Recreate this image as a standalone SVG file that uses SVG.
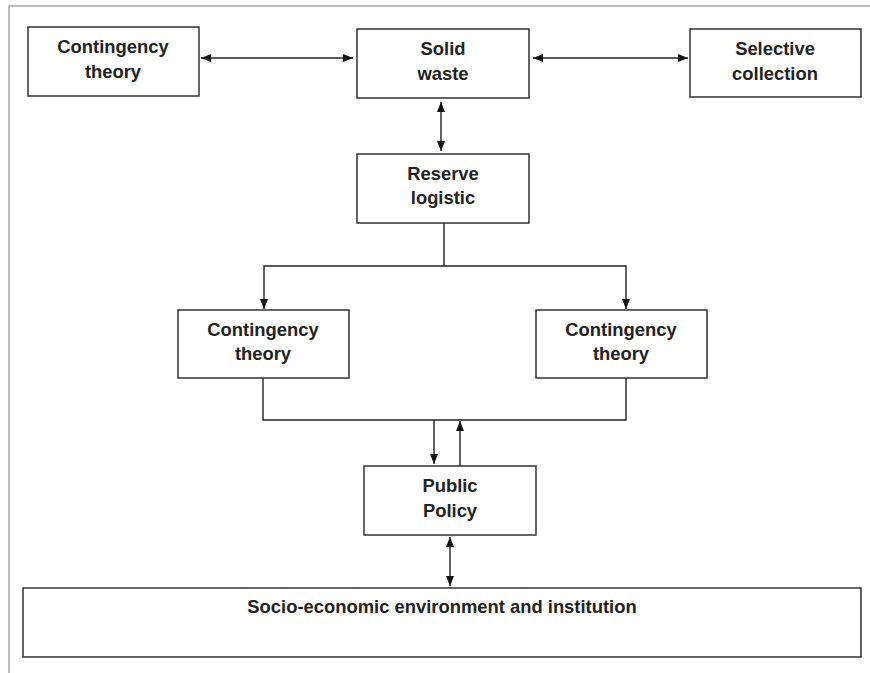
<svg xmlns="http://www.w3.org/2000/svg" width="870" height="673" viewBox="0 0 870 673">
<style>
.box{fill:#fff;stroke:#333;stroke-width:1.5}
.lbl{font-family:"Liberation Sans",Arial,sans-serif;font-weight:bold;font-size:18.4px;fill:#222;text-anchor:middle}
.ln{fill:none;stroke:#222;stroke-width:1.4}
.frame{fill:none;stroke:#a6a6a6;stroke-width:1.5}
</style>
<defs>
<marker id="ah" viewBox="0 0 10 8" refX="10" refY="4" markerWidth="10" markerHeight="8" markerUnits="userSpaceOnUse" orient="auto-start-reverse">
<path d="M0,0 L10,4 L0,8 z" fill="#111"/>
</marker>
</defs>
<rect width="870" height="673" fill="#fff"/>
<path class="frame" d="M9,673 V6 H870"/>
<g id="connectors">
<line class="ln" x1="201" y1="58" x2="353" y2="58" marker-start="url(#ah)" marker-end="url(#ah)"/>
<line class="ln" x1="533" y1="58" x2="688" y2="58" marker-start="url(#ah)" marker-end="url(#ah)"/>
<line class="ln" x1="441" y1="102" x2="441" y2="151" marker-start="url(#ah)" marker-end="url(#ah)"/>
<line class="ln" x1="444" y1="223" x2="444" y2="266"/>
<path class="ln" d="M264,309 V266 H626 V309" marker-start="url(#ah)" marker-end="url(#ah)"/>
<path class="ln" d="M263,378 V420 H626 V378"/>
<line class="ln" x1="434" y1="420" x2="434" y2="464" marker-end="url(#ah)"/>
<line class="ln" x1="460" y1="466" x2="460" y2="421" marker-end="url(#ah)"/>
<line class="ln" x1="450" y1="537" x2="450" y2="586" marker-start="url(#ah)" marker-end="url(#ah)"/>
</g>
<g id="n-contingency-top">
<rect class="box" x="28" y="27" width="171" height="69"/>
<text class="lbl" x="113" y="53">Contingency</text>
<text class="lbl" x="113" y="78">theory</text>
</g>
<g id="n-solid-waste">
<rect class="box" x="357" y="29" width="172" height="69"/>
<text class="lbl" x="443" y="55">Solid</text>
<text class="lbl" x="443" y="80">waste</text>
</g>
<g id="n-selective">
<rect class="box" x="690" y="29" width="171" height="68"/>
<text class="lbl" x="775" y="55">Selective</text>
<text class="lbl" x="775" y="80">collection</text>
</g>
<g id="n-reserve">
<rect class="box" x="357" y="154" width="172" height="69"/>
<text class="lbl" x="443" y="180">Reserve</text>
<text class="lbl" x="443" y="204">logistic</text>
</g>
<g id="n-contingency-left">
<rect class="box" x="178" y="310" width="171" height="68"/>
<text class="lbl" x="263" y="336">Contingency</text>
<text class="lbl" x="263" y="360">theory</text>
</g>
<g id="n-contingency-right">
<rect class="box" x="536" y="310" width="171" height="68"/>
<text class="lbl" x="621" y="336">Contingency</text>
<text class="lbl" x="621" y="360">theory</text>
</g>
<g id="n-public-policy">
<rect class="box" x="364" y="466" width="172" height="69"/>
<text class="lbl" x="450" y="492">Public</text>
<text class="lbl" x="450" y="517">Policy</text>
</g>
<g id="n-socio">
<rect class="box" x="23" y="588" width="838" height="69"/>
<text class="lbl" x="442" y="613">Socio-economic environment and institution</text>
</g>
</svg>
